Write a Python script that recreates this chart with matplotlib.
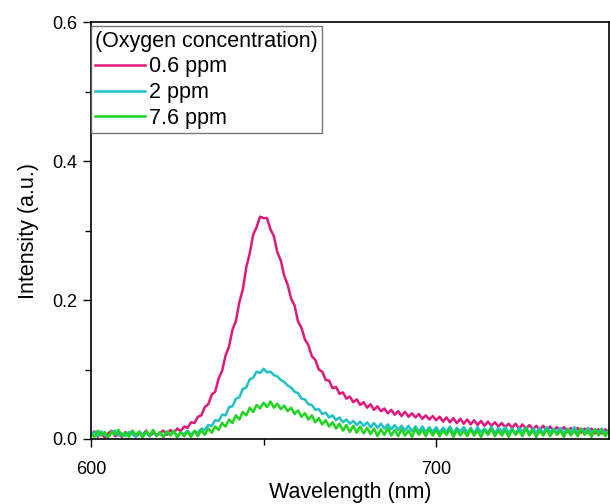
import matplotlib.pyplot as plt
import numpy as np

plt.rcParams['font.family'] = ['Liberation Sans', 'DejaVu Sans']

# wavelength grid (nm), 1 nm steps
wavelength = np.arange(600, 751)

# 0.6 ppm oxygen
i_06 = [0.006, 0.011, 0.003, 0.009, 0.002, 0.008, 0.012, 0.004, 0.007, 0.003,
        0.010, 0.005, 0.011, 0.003, 0.008, 0.006, 0.012, 0.004, 0.009, 0.005,
        0.009, 0.012, 0.006, 0.013, 0.009, 0.015, 0.011, 0.018, 0.016, 0.024,
        0.023, 0.032, 0.034, 0.046, 0.050, 0.064, 0.068, 0.087, 0.098, 0.120,
        0.133, 0.157, 0.170, 0.197, 0.215, 0.247, 0.267, 0.294, 0.305, 0.320,
        0.318, 0.318, 0.302, 0.292, 0.269, 0.257, 0.235, 0.222, 0.202, 0.192,
        0.169, 0.160, 0.143, 0.135, 0.119, 0.114, 0.100, 0.097, 0.085, 0.084,
        0.073, 0.075, 0.065, 0.067, 0.058, 0.061, 0.053, 0.057, 0.049, 0.053,
        0.045, 0.050, 0.042, 0.047, 0.040, 0.044, 0.037, 0.042, 0.035, 0.040,
        0.033, 0.039, 0.032, 0.037, 0.031, 0.036, 0.029, 0.034, 0.028, 0.033,
        0.027, 0.032, 0.025, 0.031, 0.024, 0.030, 0.023, 0.029, 0.022, 0.028,
        0.021, 0.027, 0.020, 0.026, 0.019, 0.025, 0.019, 0.024, 0.018, 0.023,
        0.017, 0.022, 0.016, 0.022, 0.015, 0.021, 0.015, 0.020, 0.014, 0.019,
        0.013, 0.019, 0.012, 0.018, 0.012, 0.017, 0.011, 0.017, 0.010, 0.016,
        0.010, 0.016, 0.009, 0.015, 0.009, 0.015, 0.008, 0.014, 0.008, 0.014, 0.009]

# 2 ppm oxygen
i_2 = [0.005, 0.010, 0.004, 0.011, 0.006, 0.003, 0.009, 0.012, 0.005, 0.008,
       0.004, 0.010, 0.007, 0.003, 0.011, 0.006, 0.009, 0.004, 0.012, 0.005,
       0.008, 0.003, 0.010, 0.006, 0.011, 0.004, 0.009, 0.007, 0.012, 0.006,
       0.011, 0.009, 0.015, 0.013, 0.020, 0.019, 0.027, 0.026, 0.035, 0.034,
       0.046, 0.047, 0.058, 0.060, 0.072, 0.074, 0.086, 0.088, 0.097, 0.095,
       0.101, 0.096, 0.097, 0.092, 0.090, 0.085, 0.082, 0.077, 0.074, 0.068,
       0.066, 0.058, 0.057, 0.050, 0.049, 0.042, 0.043, 0.036, 0.038, 0.031,
       0.034, 0.027, 0.031, 0.024, 0.028, 0.022, 0.026, 0.020, 0.025, 0.019,
       0.024, 0.017, 0.023, 0.016, 0.022, 0.015, 0.021, 0.014, 0.020, 0.013,
       0.019, 0.012, 0.019, 0.011, 0.018, 0.011, 0.018, 0.010, 0.017, 0.010,
       0.017, 0.009, 0.016, 0.010, 0.018, 0.008, 0.016, 0.011, 0.017, 0.009,
       0.016, 0.008, 0.017, 0.010, 0.015, 0.009, 0.018, 0.008, 0.016, 0.010,
       0.017, 0.009, 0.015, 0.008, 0.016, 0.010, 0.017, 0.008, 0.015, 0.009,
       0.016, 0.008, 0.017, 0.010, 0.015, 0.009, 0.016, 0.008, 0.015, 0.010,
       0.017, 0.008, 0.015, 0.009, 0.016, 0.008, 0.014, 0.010, 0.015, 0.008, 0.013]

# 7.6 ppm oxygen
i_76 = [0.008, 0.003, 0.012, 0.005, 0.010, 0.002, 0.011, 0.006, 0.013, 0.004,
        0.009, 0.003, 0.012, 0.006, 0.010, 0.002, 0.011, 0.005, 0.013, 0.004,
        0.010, 0.003, 0.011, 0.005, 0.012, 0.002, 0.010, 0.004, 0.011, 0.003,
        0.012, 0.004, 0.013, 0.006, 0.015, 0.009, 0.018, 0.013, 0.023, 0.018,
        0.028, 0.023, 0.034, 0.028, 0.039, 0.034, 0.045, 0.039, 0.049, 0.044,
        0.052, 0.046, 0.054, 0.045, 0.051, 0.043, 0.048, 0.040, 0.045, 0.036,
        0.041, 0.032, 0.037, 0.028, 0.034, 0.024, 0.030, 0.021, 0.027, 0.018,
        0.024, 0.015, 0.022, 0.012, 0.020, 0.010, 0.019, 0.009, 0.018, 0.008,
        0.016, 0.007, 0.015, 0.004, 0.014, 0.006, 0.016, 0.005, 0.013, 0.004,
        0.014, 0.005, 0.012, 0.003, 0.015, 0.006, 0.013, 0.004, 0.014, 0.005,
        0.013, 0.004, 0.012, 0.006, 0.014, 0.003, 0.013, 0.005, 0.012, 0.004,
        0.014, 0.005, 0.012, 0.003, 0.013, 0.006, 0.015, 0.004, 0.012, 0.005,
        0.013, 0.003, 0.014, 0.006, 0.012, 0.004, 0.015, 0.005, 0.013, 0.003,
        0.012, 0.005, 0.014, 0.004, 0.013, 0.006, 0.012, 0.003, 0.014, 0.005,
        0.013, 0.004, 0.015, 0.006, 0.012, 0.003, 0.014, 0.005, 0.013, 0.004, 0.012]

labels = ['0.6 ppm', '2 ppm', '7.6 ppm']
colors = ['#e0187c', '#22c0c6', '#1ed41e']

fig = plt.figure(figsize=(6.1, 5.04), dpi=100)
ax = fig.add_axes([0.149, 0.129, 0.849, 0.827])

for y, lab, c in zip([i_06, i_2, i_76], labels, colors):
    ax.plot(wavelength, y, color=c, lw=1.8, label=lab)

ax.set_xlim(600, 750)
ax.set_ylim(0, 0.6)
ax.set_xticks([600, 700])
ax.set_xticks([650], minor=True)
ax.set_yticks([0.0, 0.2, 0.4, 0.6])
ax.set_yticks([0.1, 0.3, 0.5], minor=True)
ax.set_yticklabels(['0.0', '0.2', '0.4', '0.6'])
ax.tick_params(which='major', direction='out', length=6, width=1, labelsize=13)
ax.tick_params(axis='x', which='major', pad=10)
ax.tick_params(axis='y', which='major', pad=4)
ax.tick_params(which='minor', direction='out', length=4, width=1)
for s in ax.spines.values():
    s.set_linewidth(1.2)

ax.set_xlabel('Wavelength (nm)', fontsize=15.5, labelpad=3)
ax.set_ylabel('Intensity (a.u.)', fontsize=15.5, labelpad=9)

leg = ax.legend(title='(Oxygen concentration)', loc='upper left',
                bbox_to_anchor=(0.0, 0.99), borderaxespad=0, fontsize=15.5,
                title_fontsize=15.5, fancybox=False, edgecolor='#555555',
                handlelength=2.3, handletextpad=0.2, labelspacing=0.22,
                borderpad=0.2, alignment='left')
leg.get_frame().set_linewidth(1.0)

fig.savefig('out.png', dpi=100)
